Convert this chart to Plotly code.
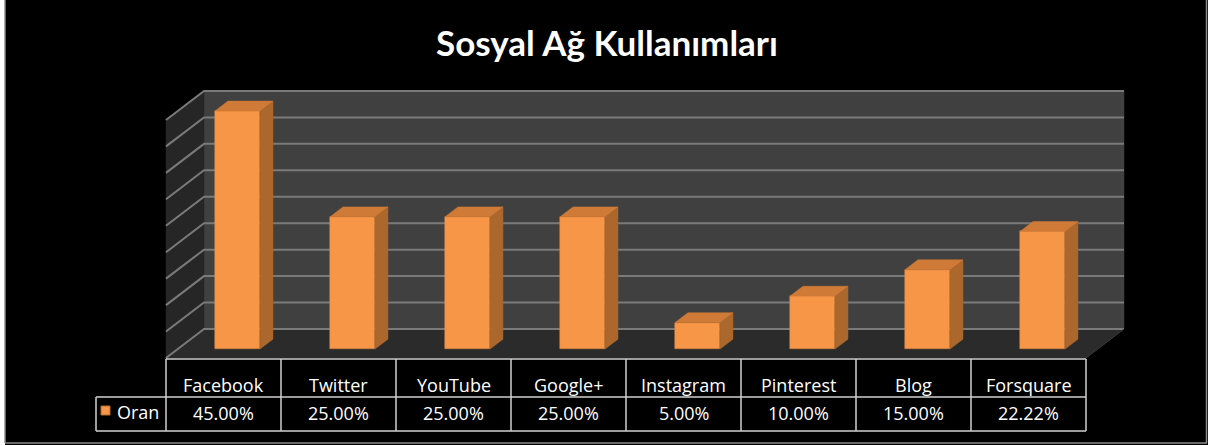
import plotly.graph_objects as go

# ---- data ----
categories = ["Facebook", "Twitter", "YouTube", "Google+", "Instagram", "Pinterest", "Blog", "Forsquare"]
values = [45.00, 25.00, 25.00, 25.00, 5.00, 10.00, 15.00, 22.22]
series_name = "Oran"
title_text = "Sosyal Ağ Kullanımları"
axis_max = 45
grid_step = 5

# ---- geometry (in axis units) ----
W, H = 1208, 445
PX_X = 115.0          # pixels per category
PX_Y = 5.29           # pixels per percent
X0_PIX = 166.0        # pixel of x = -0.5 (front-left corner)
Y0_PIX = 358.0        # pixel of value 0 on front plane
DX = 38.0 / PX_X      # depth offset in x units
DY = 29.0 / PX_Y      # depth offset in y units
D1, D2 = 0.37, 0.71   # bar front/back depth fractions
BW = 45.0 / PX_X      # bar width

n = len(categories)
x_lo = -0.5 - X0_PIX / PX_X
x_hi = -0.5 + (W - X0_PIX) / PX_X
y_lo = -(H - Y0_PIX) / PX_Y
y_hi = Y0_PIX / PX_Y

def py(p):  # pixel y to paper
    return 1 - p / H

def px(p):  # pixel x to paper
    return p / W

ORANGE = "#F79646"
SIDE = "#AC672C"
TOP = "#CF7B37"
GRID = "#7a7a7a"
LINE = "#d0d0d0"

fig = go.Figure()

def poly(xs, ys, color, axes=("x", "y")):
    fig.add_trace(go.Scatter(
        x=xs + [xs[0]], y=ys + [ys[0]], mode="lines", fill="toself",
        fillcolor=color, line=dict(color=color, width=0.5),
        hoverinfo="skip", showlegend=False, xaxis=axes[0], yaxis=axes[1]))

# floor
poly([-0.5, n - 0.5, n - 0.5 + DX, -0.5 + DX], [0, 0, DY, DY], "#2b2b2b")
# back wall
poly([-0.5 + DX, n - 0.5 + DX, n - 0.5 + DX, -0.5 + DX],
     [DY, DY, DY + axis_max, DY + axis_max], "#404040")
# left wall
poly([-0.5, -0.5 + DX, -0.5 + DX, -0.5], [0, DY, DY + axis_max, axis_max], "#262626")

# gridlines (back wall + left wall)
g = 0
while g <= axis_max + 1e-9:
    fig.add_trace(go.Scatter(
        x=[-0.5, -0.5 + DX, n - 0.5 + DX], y=[g, g + DY, g + DY], mode="lines",
        line=dict(color=GRID, width=2), hoverinfo="skip", showlegend=False))
    g += grid_step

# floor right edge
fig.add_trace(go.Scatter(x=[n - 0.5, n - 0.5 + DX], y=[0, DY], mode="lines",
                         line=dict(color="#3a3a3a", width=1), hoverinfo="skip", showlegend=False))

# bars: front faces via bar trace (on overlaying axes so they sit above the walls)
xc = [i + D1 * DX for i in range(n)]
base = 9.0 / PX_Y
fig.add_trace(go.Bar(x=xc, y=values, base=[base] * n, width=BW,
                     marker=dict(color=ORANGE, line=dict(color="#d98540", width=0.5)),
                     showlegend=False, hoverinfo="skip", xaxis="x2", yaxis="y2"))

# side and top faces
wd = D2 - D1
for i, v in enumerate(values):
    xl = xc[i] - BW / 2
    xr = xc[i] + BW / 2
    poly([xr, xr + wd * DX, xr + wd * DX, xr],
         [base, base + wd * DY, base + wd * DY + v, base + v], SIDE, ("x2", "y2"))
    poly([xl, xr, xr + wd * DX, xl + wd * DX],
         [base + v, base + v, base + v + wd * DY, base + v + wd * DY], TOP, ("x2", "y2"))

# ---- data table ----
r0, r1, r2 = py(359), py(397), py(431)
leg_x = -0.5 - 70.0 / PX_X
shapes = []
def ln(x0, y0, x1, y1, xref="x"):
    shapes.append(dict(type="line", xref=xref, yref="paper", x0=x0, y0=y0, x1=x1, y1=y1,
                       line=dict(color=LINE, width=1.5)))
ln(-0.5, r0, n - 0.5, r0)
ln(leg_x, r1, n - 0.5, r1)
ln(leg_x, r2, n - 0.5, r2)
ln(leg_x, r1, leg_x, r2)
for k in range(n + 1):
    ln(k - 0.5, r0, k - 0.5, r2)

# outer frame (white strip at left, gray border)
shapes.insert(0, dict(type="rect", xref="paper", yref="paper", x0=0, x1=px(5), y0=0, y1=1,
                      fillcolor="white", line=dict(width=0), layer="below"))
for (a0, a1, b0, b1) in [(5, 5, 443, 0), (1206.5, 1206.5, 443, 0), (5, 1207, 443, 443)]:
    shapes.append(dict(type="line", xref="paper", yref="paper", x0=px(a0), x1=px(a1),
                       y0=py(b0), y1=py(b1), line=dict(color="#8c8c8c", width=1.5)))
# legend key
shapes.append(dict(type="rect", xref="paper", yref="paper", x0=px(101), x1=px(110), y0=py(415), y1=py(406),
                   fillcolor=ORANGE, line=dict(color="#b06a2e", width=1)))

annotations = []
FONT = "Open Sans"
FS = 18
for i, c in enumerate(categories):
    annotations.append(dict(x=i, y=py(385), xref="x", yref="paper", text=c, showarrow=False,
                            font=dict(family=FONT, size=FS, color="white"), xanchor="center", yanchor="middle"))
    annotations.append(dict(x=i, y=py(413), xref="x", yref="paper", text=f"{values[i]:.2f}%", showarrow=False,
                            font=dict(family=FONT, size=FS, color="white"), xanchor="center", yanchor="middle"))
annotations.append(dict(x=px(115), y=py(412), xref="paper", yref="paper", text=series_name, showarrow=False,
                        font=dict(family=FONT, size=FS, color="white"), xanchor="left", yanchor="middle"))
annotations.append(dict(x=px(607), y=py(42), xref="paper", yref="paper", text=f"<b>{title_text}</b>",
                        showarrow=False, font=dict(family="Lato", size=35, color="white"),
                        xanchor="center", yanchor="middle"))

fig.update_layout(
    width=W, height=H, margin=dict(l=0, r=0, t=0, b=0),
    paper_bgcolor="black", plot_bgcolor="black",
    xaxis=dict(range=[x_lo, x_hi], visible=False, fixedrange=True),
    yaxis=dict(range=[y_lo, y_hi], visible=False, fixedrange=True),
    xaxis2=dict(range=[x_lo, x_hi], visible=False, fixedrange=True, overlaying="x"),
    yaxis2=dict(range=[y_lo, y_hi], visible=False, fixedrange=True, overlaying="y"),
    shapes=shapes, annotations=annotations, showlegend=False, bargap=0,
)

fig.write_html("out.html")
